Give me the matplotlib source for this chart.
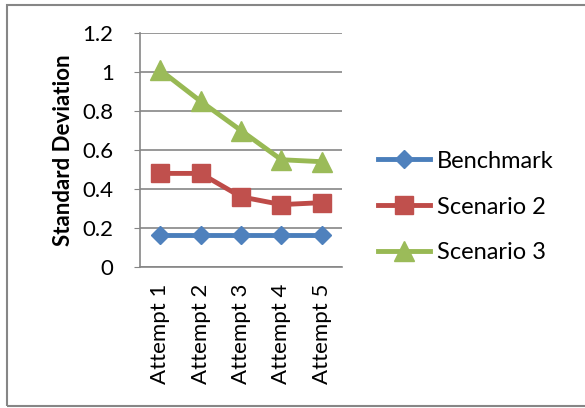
import matplotlib.pyplot as plt
from matplotlib.patches import Rectangle

plt.rcParams['font.family'] = ['Lato', 'DejaVu Sans']

attempts = ['Attempt 1', 'Attempt 2', 'Attempt 3', 'Attempt 4', 'Attempt 5']
benchmark = [0.165, 0.165, 0.165, 0.165, 0.165]
scenario2 = [0.48, 0.48, 0.36, 0.32, 0.33]
scenario3 = [1.01, 0.85, 0.70, 0.55, 0.54]

fig = plt.figure(figsize=(5.85, 4.08), dpi=100)
ax = fig.add_axes([140 / 585, 1 - 267 / 408, 202 / 585, 234 / 408])

x = range(len(attempts))
ax.plot(x, benchmark, color='#4A7EBB', lw=3.5, marker='D', ms=9,
        mfc='#4F81BD', mec='#4F81BD', label='Benchmark')
ax.plot(x, scenario2, color='#BE4B48', lw=3.5, marker='s', ms=13,
        mfc='#C0504D', mec='#C0504D', label='Scenario 2')
ax.plot(x, scenario3, color='#98B954', lw=3.5, marker='^', ms=14,
        mfc='#9BBB59', mec='#9BBB59', label='Scenario 3')

ax.set_xlim(-0.5, len(attempts) - 0.5)
ax.set_ylim(0, 1.2)
ax.set_yticks([0, 0.2, 0.4, 0.6, 0.8, 1.0, 1.2])
ax.set_yticklabels(['0', '0.2', '0.4', '0.6', '0.8', '1', '1.2'], fontsize=16)
ax.set_xticks(list(x))
ax.set_xticklabels(attempts, rotation=90, fontsize=16)
ax.tick_params(axis='y', length=4, color='#868686', pad=15)
ax.tick_params(axis='x', length=0, pad=12)

ax.grid(True, axis='y', color='#868686', lw=1.2)
ax.set_axisbelow(True)
for side in ['top', 'right']:
    ax.spines[side].set_visible(False)
for side in ['left', 'bottom']:
    ax.spines[side].set_color('#868686')
    ax.spines[side].set_linewidth(1.2)

ax.set_ylabel('Standard Deviation', fontsize=16, fontweight='bold', labelpad=6)

fig.legend(loc='center left', bbox_to_anchor=(378 / 585, 1 - 207 / 408),
           frameon=False, fontsize=17, borderpad=0, borderaxespad=0,
           handlelength=2.2, handletextpad=0.3, labelspacing=1.05)

fig.patches.append(Rectangle((7 / 585, 2 / 408), 1.2, 401 / 408,
                             transform=fig.transFigure, fill=False,
                             ec='#868686', lw=1.5))

plt.savefig('out.png', dpi=100)
plt.close()
